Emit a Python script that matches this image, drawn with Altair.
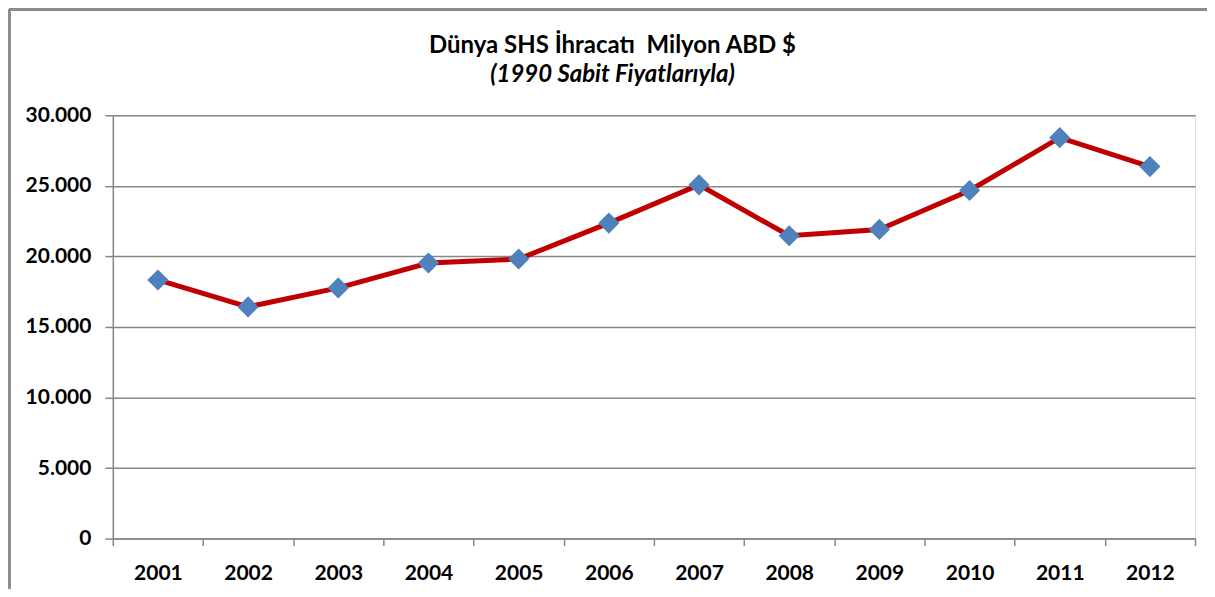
import altair as alt
import pandas as pd

years = ["2001", "2002", "2003", "2004", "2005", "2006",
         "2007", "2008", "2009", "2010", "2011", "2012"]
exports = [18330, 16420, 17765, 19530, 19815, 22360,
           25070, 21465, 21910, 24670, 28415, 26365]
y_ticks = [0, 5000, 10000, 15000, 20000, 25000, 30000]

title_text = "Dünya SHS İhracatı\u00a0 Milyon ABD $"
subtitle_text = "(1990 Sabit Fiyatlarıyla)"

df = pd.DataFrame({"year": years, "value": exports})

FONT = "Lato"
GRID = "#878787"

x_enc = alt.X(
    "year:N",
    sort=years,
    bandPosition=0.5,
    scale=alt.Scale(type="band", paddingInner=0, paddingOuter=0),
    axis=alt.Axis(
        title=None, labelAngle=0, tickBand="extent", domainColor=GRID,
        domainWidth=1.5, tickColor=GRID, tickWidth=1.5, tickSize=7,
        labelFont=FONT, labelFontSize=21, labelFontWeight="bold",
        labelColor="#000000", labelPadding=17, grid=False,
    ),
)
y_enc = alt.Y(
    "value:Q",
    scale=alt.Scale(domain=[0, 30000], nice=False),
    axis=alt.Axis(
        title=None, values=y_ticks, grid=True, gridColor=GRID,
        gridWidth=1.5, domainColor=GRID, domainWidth=1.5, tickColor=GRID,
        tickWidth=1.5, tickSize=8, labelFont=FONT, labelFontSize=21,
        labelFontWeight="bold", labelColor="#000000", labelPadding=14,
        labelExpr="replace(format(datum.value, ','), ',', '.')",
    ),
)

base = alt.Chart(df).encode(x=x_enc, y=y_enc)

line = base.mark_line(color="#C00000", strokeWidth=5)
points = base.mark_point(shape="diamond", filled=True, color="#4F81BD",
                         size=450, opacity=1)

frame_left = alt.Chart(df).mark_rule(color="#8c8c8c", strokeWidth=2.5).encode(
    x=alt.value(-104), y=alt.value(-106), y2=alt.value(490)
)
frame_top = alt.Chart(df).mark_rule(color="#8c8c8c", strokeWidth=2.5).encode(
    x=alt.value(-104), x2=alt.value(1105), y=alt.value(-106)
)

chart = alt.layer(frame_left, frame_top, line, points).properties(
    width=1084,
    height=424,
    autosize=alt.AutoSizeParams(type="none"),
    padding={"left": 105, "top": 107, "right": 12, "bottom": 50},
    title=alt.TitleParams(
        text=title_text,
        subtitle=subtitle_text,
        anchor="middle",
        frame="bounds",
        font=FONT,
        fontSize=24,
        fontWeight="bold",
        color="#000000",
        subtitleFont=FONT,
        subtitleFontSize=24,
        subtitleFontWeight="bold",
        subtitleFontStyle="italic",
        subtitleColor="#000000",
        subtitlePadding=5,
        offset=-79,
    ),
).configure_view(stroke=None).configure(background="#ffffff")

chart.save("out.html", embed_options={"renderer": "svg", "actions": False})
